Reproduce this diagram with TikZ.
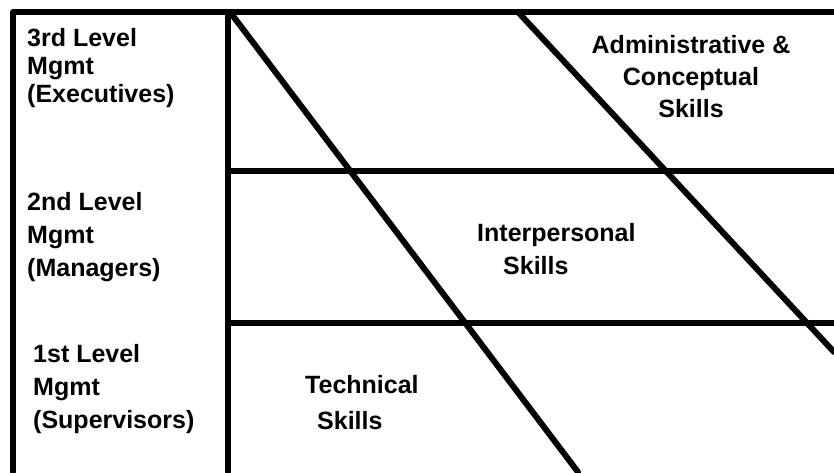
\documentclass[tikz,border=0pt]{standalone}
\usepackage{fontspec}
\setmainfont{Liberation Sans}

\begin{document}
\begin{tikzpicture}[x=1pt, y=-1pt, % Pixel-Koordinaten, y nach unten
    linie/.style={line width=6pt, line cap=round, line join=round},
    ebene/.style={anchor=north west, inner sep=0pt, align=left, font=\bfseries\fontsize{25}{33}\selectfont},
    skill/.style={inner sep=0pt, font=\bfseries\fontsize{25}{33}\selectfont}]

    \useasboundingbox (0,0) rectangle (834,472);

    % Rahmen und Trennlinien
    \draw[linie] (13,472) -- (13,12) -- (834,12);
    \draw[linie] (228,12) -- (228,472); % Spalte der Ebenen
    \foreach \y in {171, 323} {
        \draw[linie] (228,\y) -- (834,\y); % Horizontale Trennlinien
    }

    % Diagonalen zwischen den Faehigkeiten
    \draw[linie] (230,12) -- (578,472);
    \draw[linie] (518,12) -- (834,352);

    % Managementebenen
    \node[ebene, font=\bfseries\fontsize{25}{28}\selectfont] (exec) at (27,28) {3rd Level\\Mgmt\\(Executives)};
    \node[ebene] (mgr) at (27,192) {2nd Level\\Mgmt\\(Managers)};
    \node[ebene] (sup) at (33,344) {1st Level\\Mgmt\\(Supervisors)};

    % Faehigkeiten
    \node[skill, anchor=north, align=center, font=\bfseries\fontsize{25}{32}\selectfont] (admin) at (691,35) {Administrative \&\\Conceptual\\Skills};
    \node[skill, anchor=north west, align=left] (inter) at (477,223) {Interpersonal\\\hspace*{26pt}Skills};
    \node[skill, anchor=north west, align=left, font=\bfseries\fontsize{25}{36}\selectfont] (tech) at (305,375) {Technical\\\hspace*{12pt}Skills};
\end{tikzpicture}
\end{document}
